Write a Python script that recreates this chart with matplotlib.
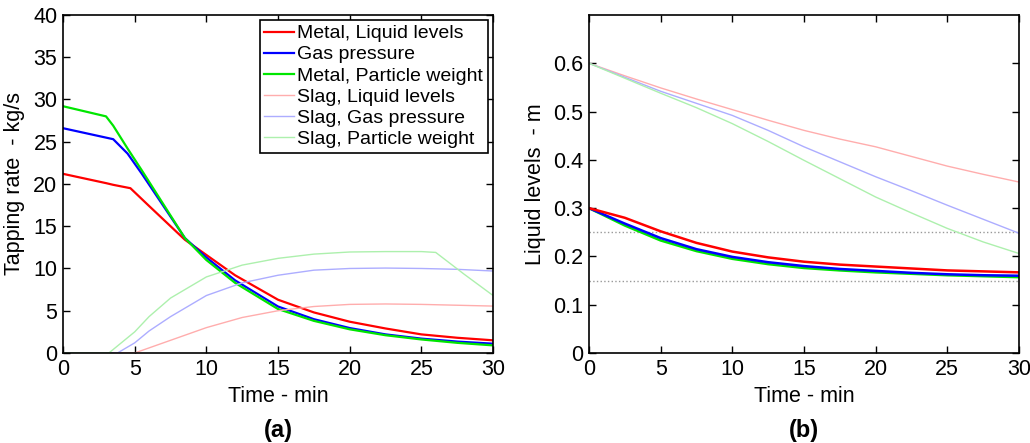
import matplotlib.pyplot as plt

plt.rcParams['font.family'] = ['Liberation Sans', 'DejaVu Sans']

# panel (a): tapping rates, kg/s
t_red = [0, 3, 3.5, 4.7, 6, 7, 8.5, 10, 12, 15, 17.5, 20, 22.5, 25, 27.5, 30]
metal_level = [21.2, 20.1, 19.9, 19.5, 17.4, 15.8, 13.4, 11.6, 9.2, 6.3, 4.8, 3.7, 2.9, 2.2, 1.8, 1.5]
t_blue = [0, 3.5, 4.5, 5.5, 7, 8.5, 10, 12, 15, 17.5, 20, 22.5, 25, 27.5, 30]
metal_gas = [26.6, 25.3, 23.6, 21.2, 17.4, 13.6, 11.3, 8.6, 5.5, 4.0, 2.95, 2.2, 1.7, 1.35, 1.1]
t_green = [0, 3, 3.5, 4.5, 5.5, 7, 8.5, 10, 12, 15, 17.5, 20, 22.5, 25, 27.5, 30]
metal_part = [29.2, 28.0, 26.9, 24.2, 21.6, 17.6, 13.6, 11.0, 8.3, 5.2, 3.8, 2.8, 2.1, 1.6, 1.2, 0.9]

t_s_red = [0, 5, 6, 7.5, 10, 12.5, 15, 17.5, 20, 22.5, 25, 27.5, 30]
slag_level = [0, 0, 0.6, 1.5, 3.0, 4.2, 5.0, 5.5, 5.75, 5.8, 5.75, 5.65, 5.55]
t_s_blue = [0, 3.8, 5, 6, 7.5, 10, 12.5, 15, 17.5, 20, 22.5, 25, 27.5, 30]
slag_gas = [0, 0, 1.2, 2.6, 4.3, 6.8, 8.3, 9.2, 9.8, 10.0, 10.05, 10.0, 9.9, 9.7]
t_s_green = [0, 3.2, 5, 6, 7.5, 10, 12.5, 15, 17.5, 20, 22.5, 25, 26, 28, 30]
slag_part = [0, 0, 2.5, 4.3, 6.5, 9.0, 10.4, 11.2, 11.7, 11.95, 12.0, 12.0, 11.9, 9.3, 6.8]

# panel (b): liquid levels, m
t2 = [0, 2.5, 5, 7.5, 10, 12.5, 15, 17.5, 20, 22.5, 25, 27.5, 30]
lev_slag_level = [0.6, 0.574, 0.549, 0.526, 0.504, 0.482, 0.461, 0.443, 0.427, 0.407, 0.387, 0.370, 0.354]
lev_slag_gas = [0.6, 0.571, 0.542, 0.517, 0.492, 0.461, 0.427, 0.396, 0.365, 0.336, 0.306, 0.277, 0.248]
lev_slag_part = [0.6, 0.569, 0.538, 0.508, 0.475, 0.438, 0.399, 0.361, 0.323, 0.290, 0.258, 0.230, 0.206]
lev_metal_level = [0.3, 0.28, 0.252, 0.228, 0.21, 0.198, 0.189, 0.183, 0.179, 0.175, 0.171, 0.169, 0.167]
lev_metal_gas = [0.3, 0.268, 0.238, 0.215, 0.199, 0.188, 0.180, 0.174, 0.170, 0.166, 0.163, 0.161, 0.160]
lev_metal_part = [0.3, 0.264, 0.233, 0.211, 0.195, 0.184, 0.176, 0.171, 0.167, 0.164, 0.161, 0.159, 0.157]
limits = [0.25, 0.15]

labels = ["Metal, Liquid levels", "Gas pressure", "Metal, Particle weight",
          "Slag, Liquid levels", "Slag, Gas pressure", "Slag, Particle weight"]
dark = ['#ff0000', '#0000ff', '#00e600']
light = ['#ffadad', '#adadff', '#adf0ad']

fig = plt.figure(figsize=(10.3, 4.43), dpi=100)
ax1 = fig.add_axes([0.0612, 0.2032, 0.4175, 0.763])
ax2 = fig.add_axes([0.5718, 0.2032, 0.4175, 0.763])

ax1.plot(t_red, metal_level, color=dark[0], lw=1.6, label=labels[0])
ax1.plot(t_blue, metal_gas, color=dark[1], lw=1.6, label=labels[1])
ax1.plot(t_green, metal_part, color=dark[2], lw=1.6, label=labels[2])
ax1.plot(t_s_red, slag_level, color=light[0], lw=1, label=labels[3])
ax1.plot(t_s_blue, slag_gas, color=light[1], lw=1, label=labels[4])
ax1.plot(t_s_green, slag_part, color=light[2], lw=1, label=labels[5])
ax1.set_xlim(0, 30)
ax1.set_ylim(0, 40)
ax1.set_yticks(range(0, 41, 5))
ax1.set_xticks(range(0, 31, 5))
leg = ax1.legend(loc='upper right', fontsize=14, frameon=True, fancybox=False,
                 edgecolor='black', framealpha=1, handlelength=1.5, handletextpad=0.2,
                 labelspacing=0.18, borderpad=0.25, borderaxespad=0.25)
leg.get_frame().set_linewidth(1.2)

for y in limits:
    ax2.axhline(y, color='#999999', lw=1, ls=':')
ax2.plot(t2, lev_slag_level, color=light[0], lw=1)
ax2.plot(t2, lev_slag_gas, color=light[1], lw=1)
ax2.plot(t2, lev_slag_part, color=light[2], lw=1)
ax2.plot(t2, lev_metal_part, color=dark[2], lw=1.8)
ax2.plot(t2, lev_metal_gas, color=dark[1], lw=1.8)
ax2.plot(t2, lev_metal_level, color=dark[0], lw=1.8)
ax2.set_xlim(0, 30)
ax2.set_ylim(0, 0.7)
ax2.set_yticks([0, 0.1, 0.2, 0.3, 0.4, 0.5, 0.6])
ax2.set_yticklabels(['0', '0.1', '0.2', '0.3', '0.4', '0.5', '0.6'])
ax2.set_xticks(range(0, 31, 5))

for ax in (ax1, ax2):
    ax.tick_params(direction='in', top=True, right=True, length=5, width=1,
                   labelsize=15.5, pad=4)
    for s in ax.spines.values():
        s.set_linewidth(1.2)

fig.text(15 / 1030, 0.5848, 'Tapping rate  - kg/s', fontsize=15.5, rotation=90,
         ha='center', va='center')
fig.text(535 / 1030, 0.5848, 'Liquid levels  - m', fontsize=15.5, rotation=90,
         ha='center', va='center')

fig.text(0.2700, 1 - 397 / 443, 'Time - min', fontsize=15.5, ha='center', va='center')
fig.text(0.7806, 1 - 397 / 443, 'Time - min', fontsize=15.5, ha='center', va='center')
fig.text(0.2700, 1 - 430 / 443, '(a)', fontsize=17, fontweight='bold', ha='center', va='center')
fig.text(0.7806, 1 - 430 / 443, '(b)', fontsize=17, fontweight='bold', ha='center', va='center')

fig.savefig('out.png', dpi=100)
